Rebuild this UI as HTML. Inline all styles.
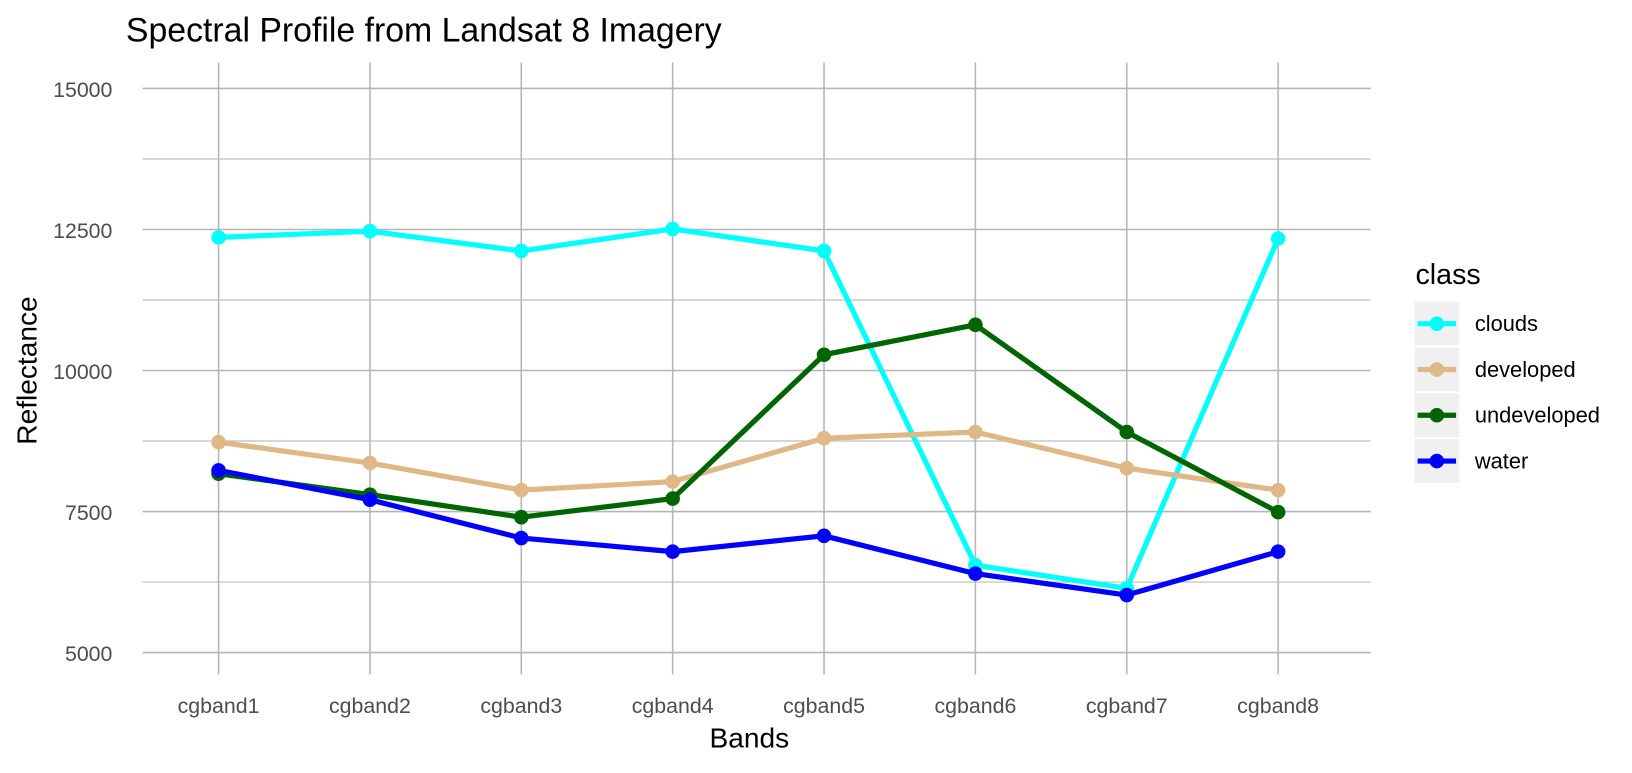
<!DOCTYPE html>
<html><head><meta charset="utf-8"><style>
body{margin:0;background:#fff;font-family:"Liberation Sans",Arial,sans-serif}
</style></head><body>
<svg id="chart" width="1632" height="768" viewBox="0 0 1568 737.9" preserveAspectRatio="none" xmlns="http://www.w3.org/2000/svg" font-family="Liberation Sans, Arial, sans-serif">
<text x="121" y="40" font-size="32.5" fill="#000">Spectral Profile from Landsat 8 Imagery</text>
<g id="grid"></g><g id="axes"></g><g id="series"></g>
<text x="720" y="718" font-size="27" text-anchor="middle" fill="#000">Bands</text>
<text transform="translate(35,356) rotate(-90)" font-size="27" text-anchor="middle" fill="#000">Reflectance</text>
<g id="legend"></g>
</svg>
<script>
const categories=["cgband1","cgband2","cgband3","cgband4","cgband5","cgband6","cgband7","cgband8"];
const seriesNames=["clouds","developed","undeveloped","water"];
const seriesColors=["#00ffff","#deb887","#006400","#0000ff"];
const clouds=[12360,12470,12120,12510,12120,6550,6140,12340];
const developed=[8730,8360,7880,8030,8800,8910,8270,7880];
const undeveloped=[8170,7800,7400,7730,10280,10810,8910,7490];
const water=[8230,7710,7030,6790,7070,6400,6020,6790];
const yTicks=[5000,7500,10000,12500,15000];
const yMinor=[6250,8750,11250,13750];
const NS="http://www.w3.org/2000/svg";
const x=i=>210+i*(1228-210)/7;
const y=v=>627-(v-5000)*542/10000;
function mk(t,a,p){const e=document.createElementNS(NS,t);for(const k in a)e.setAttribute(k,a[k]);p.appendChild(e);return e;}
const grid=document.getElementById('grid'),axes=document.getElementById('axes'),ser=document.getElementById('series'),leg=document.getElementById('legend');
yMinor.forEach(v=>{const l=mk('line',{x1:137,x2:1317,y1:y(v),y2:y(v),stroke:'#bdbdbd','stroke-width':1.2},grid);

});
yTicks.forEach(v=>{const l=mk('line',{x1:137,x2:1317,y1:y(v),y2:y(v),stroke:'#b5b5b5','stroke-width':1.5},grid);


const t=mk('text',{x:108,y:y(v)+8,'font-size':20.5,'text-anchor':'end',fill:'#4d4d4d'},axes);t.textContent=v;

});
categories.forEach((c,i)=>{const l=mk('line',{x1:x(i),x2:x(i),y1:60,y2:648,stroke:'#b5b5b5','stroke-width':1.5},grid);


const t=mk('text',{x:x(i),y:685,'font-size':20.5,'text-anchor':'middle',fill:'#4d4d4d'},axes);t.textContent=c;

});
[clouds,developed,undeveloped,water].forEach((d,s)=>{
const p=mk('polyline',{points:d.map((v,i)=>x(i)+','+y(v)).join(' '),fill:'none',stroke:seriesColors[s],'stroke-width':5,'stroke-linejoin':'round'},ser);


d.forEach((v,i)=>{const c=mk('circle',{cx:x(i),cy:y(v),r:7,fill:seriesColors[s]},ser);

});});
const lt=mk('text',{x:1360,y:273,'font-size':27.5,fill:'#000'},leg);lt.textContent='class';


seriesNames.forEach((n,s)=>{const cy=311+s*44;
const g=mk('g',{},leg);


mk('rect',{x:1359,y:cy-21,width:43,height:42,fill:'#f0f0f0'},g);
mk('line',{x1:1362,x2:1399,y1:cy,y2:cy,stroke:seriesColors[s],'stroke-width':5},g);
mk('circle',{cx:1380.5,cy:cy,r:7,fill:seriesColors[s]},g);
const t=mk('text',{x:1417,y:cy+7,'font-size':21,fill:'#000'},g);t.textContent=n;});
</script>
</body></html>
